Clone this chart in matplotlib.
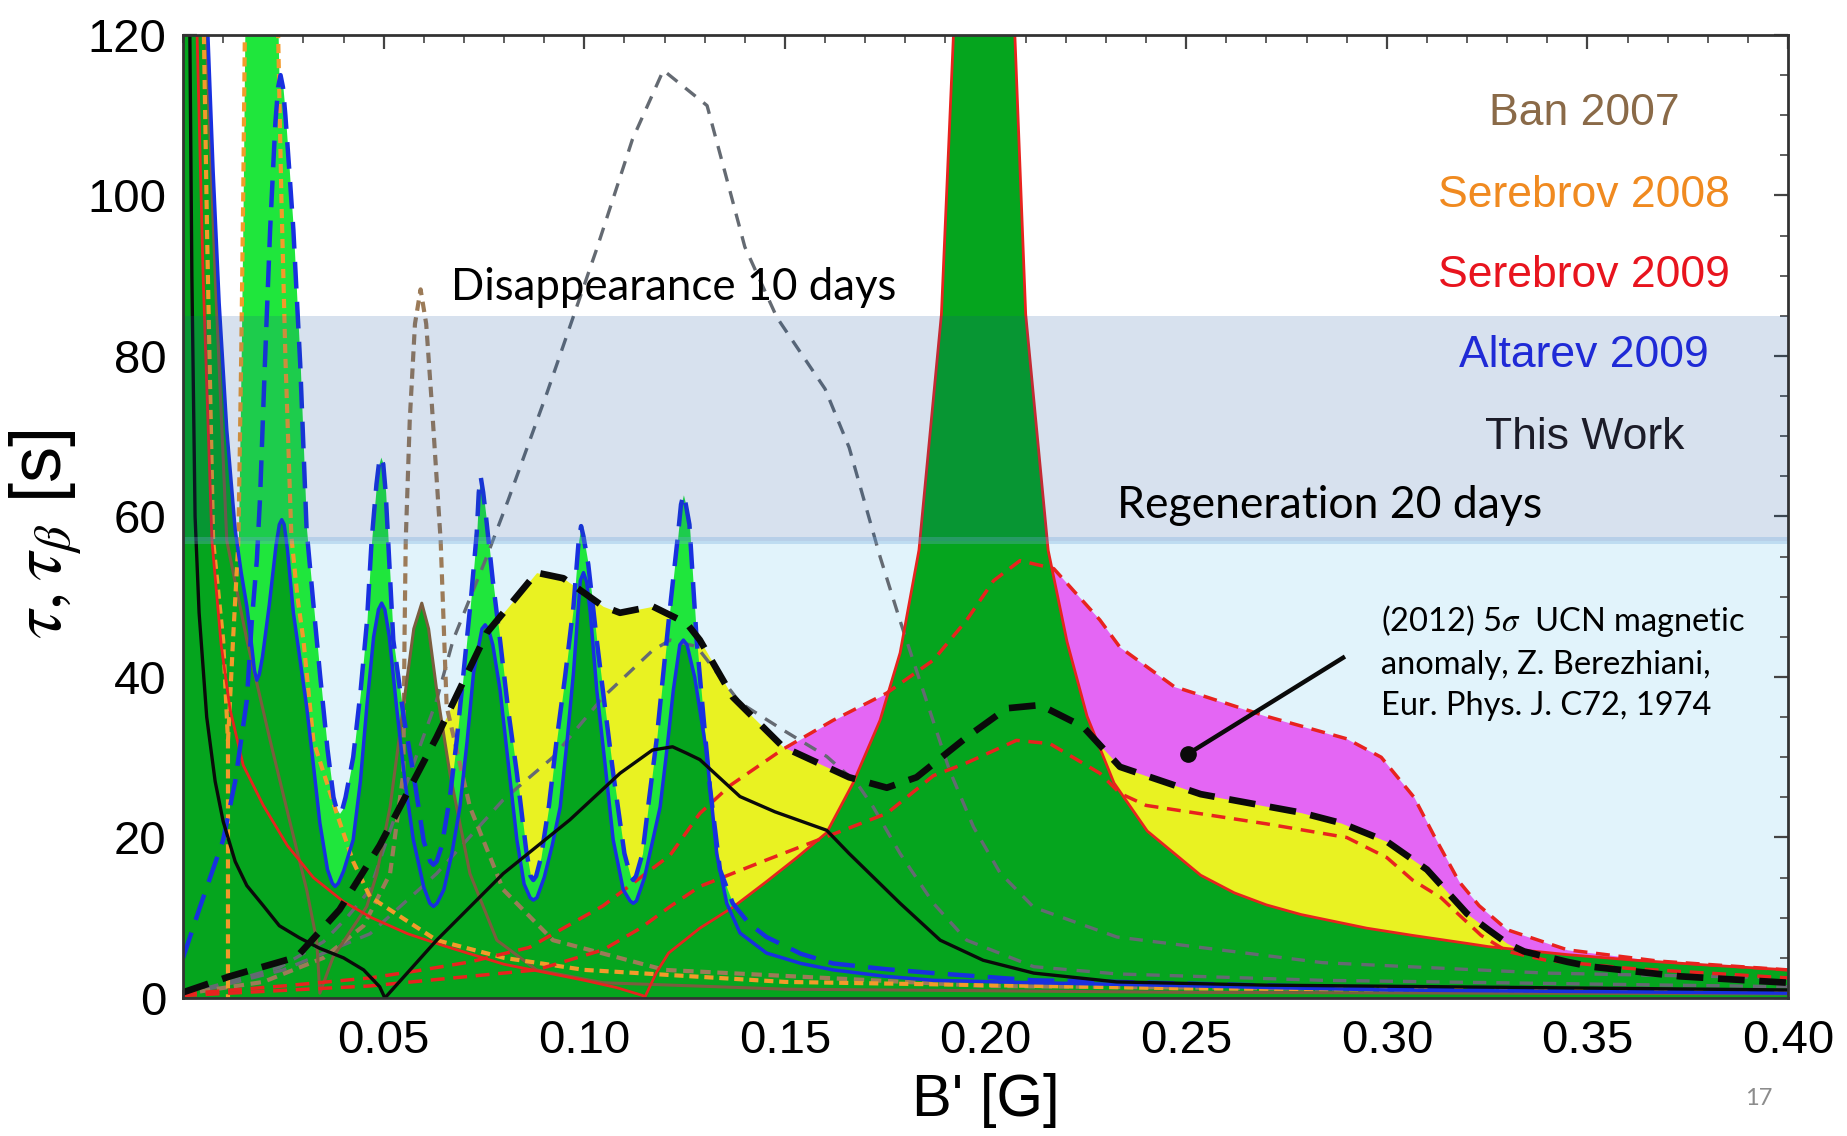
import numpy as np
import matplotlib.pyplot as plt

# curves: B' [G] and tau [s]
# Altarev 2009 (blue), solid and dashed
alt_solid_b = [0.0, 0.0062, 0.0075, 0.009, 0.0109, 0.013, 0.0145, 0.0159, 0.0172, 0.0178, 0.0184, 0.019,
               0.0198, 0.0215, 0.0232, 0.024, 0.0246, 0.0252, 0.026, 0.0275, 0.0292, 0.0308, 0.0325, 0.0341,
               0.036, 0.0372, 0.0379, 0.0387, 0.04, 0.0424, 0.0442, 0.0458, 0.0475, 0.0487, 0.0495, 0.0503,
               0.0514, 0.0532, 0.0553, 0.0574, 0.06, 0.0615, 0.0624, 0.0633, 0.065, 0.067, 0.069, 0.0708,
               0.0724, 0.0745, 0.0753, 0.0762, 0.0772, 0.079, 0.0811, 0.0832, 0.085, 0.0865, 0.0873, 0.0882,
               0.09, 0.092, 0.094, 0.0957, 0.0973, 0.099, 0.0998, 0.1006, 0.1015, 0.1031, 0.1052, 0.1072,
               0.1097, 0.1114, 0.1122, 0.113, 0.115, 0.117, 0.1189, 0.1206, 0.1222, 0.1238, 0.1247, 0.1256,
               0.1275, 0.1305, 0.133, 0.1355, 0.1388, 0.1454, 0.154, 0.162, 0.175, 0.187, 0.212, 0.233,
               0.30, 0.40]
alt_solid_t = [400, 120, 103, 86.6, 70.8, 58.3, 53, 48.8, 43.5, 40.8, 39.6, 40.3,
               42.5, 49, 56.5, 59, 59.6, 59, 56, 48, 42, 36.3, 29, 21.8,
               16, 14.3, 13.9, 14.3, 15.8, 19.7, 27, 36.3, 45, 48.4, 49.2, 48.4,
               45, 36.3, 27, 19.7, 13.8, 11.8, 11.4, 11.8, 13.5, 18, 23.8, 32,
               40.5, 46, 46.5, 45.8, 44, 38.4, 29, 19.7, 14.2, 12.5, 12.2, 12.5,
               15, 19, 23.8, 32, 40.5, 52, 53, 51.8, 48, 38.4, 29, 19.7,
               13.5, 12.1, 11.8, 12.1, 15, 19.5, 23.8, 31, 38.4, 44, 44.6, 44,
               40, 30.5, 18, 11.8, 8.1, 5.6, 4.3, 3.5, 2.7, 2.2, 1.9, 1.7,
               1.0, 0.6]

alt_dash_b = [0.0, 0.0042, 0.01, 0.013, 0.0159, 0.0171, 0.0184, 0.0192, 0.0204, 0.0217, 0.023, 0.0237,
              0.0243, 0.0249, 0.0255, 0.0265, 0.0275, 0.0292, 0.0308, 0.0325, 0.0341, 0.036, 0.0375, 0.0383,
              0.039, 0.0397, 0.0405, 0.0424, 0.0442, 0.0458, 0.047, 0.0482, 0.0488, 0.0493, 0.0499, 0.0505,
              0.0524, 0.055, 0.0574, 0.06, 0.0616, 0.0624, 0.0632, 0.0645, 0.0665, 0.0682, 0.07, 0.0718,
              0.0732, 0.0737, 0.0742, 0.0748, 0.0755, 0.0772, 0.079, 0.081, 0.0832, 0.0855, 0.0866, 0.0873,
              0.088, 0.0892, 0.0912, 0.0931, 0.0952, 0.0973, 0.0986, 0.0992, 0.0998, 0.101, 0.1031, 0.1052,
              0.1072, 0.11, 0.1115, 0.1122, 0.1129, 0.1145, 0.1162, 0.118, 0.1198, 0.1214, 0.1232, 0.1241,
              0.1247, 0.1253, 0.1262, 0.128, 0.1297, 0.1313, 0.1338, 0.137, 0.141, 0.1454, 0.154, 0.162,
              0.175, 0.187, 0.212, 0.233, 0.30, 0.40]
alt_dash_t = [5, 11.3, 19.7, 27, 37.1, 46.7, 54.6, 62.4, 79, 95.7, 109, 113.5,
              115, 113.5, 110, 103, 95.7, 79, 58.3, 49, 40.5, 31, 25, 23.5,
              23, 23.5, 25, 30, 38, 46.7, 57, 64, 66.5, 67.4, 66.5, 63,
              44.6, 35, 28, 19.5, 17, 16.6, 17, 19, 25, 32.1, 41, 50,
              58, 63, 64.9, 63, 60, 52, 44.6, 36, 28, 18.5, 15.2, 14.7,
              15.2, 17.5, 24, 32.1, 40, 48.8, 57, 58.8, 57.5, 54, 44.6, 36,
              28, 18, 15.2, 14.7, 15.2, 18, 25, 32.1, 41, 48.8, 57, 61.5,
              62.7, 61.5, 59, 44.6, 35, 26.3, 16, 11.8, 9.3, 7.6, 5.5, 4.3,
              3.6, 3.1, 2.2, 2.0, 1.2, 0.8]

# Serebrov 2008 (orange, dashed)
ser08_left_b = [0.0052, 0.006, 0.0075, 0.01, 0.0112, 0.0112]
ser08_left_t = [120, 95, 57, 44.6, 32, 0]
ser08_band_b = [0.0112, 0.0125, 0.0138, 0.0145, 0.015, 0.0154, 0.0156, 0.0235, 0.0237, 0.0245, 0.0255,
                0.027, 0.0285, 0.03, 0.0325, 0.0383, 0.0424, 0.0466, 0.0632, 0.08, 0.10, 0.15, 0.25, 0.40]
ser08_band_t = [32, 45, 57, 80, 100, 120, 130, 130, 120, 100, 80,
                57.5, 50, 44.6, 32, 23, 17, 12.6, 7.2, 5, 3.5, 2, 1.2, 0.8]

# Serebrov 2009 (red): solid, upper dashed, lower dashed
ser09_b = [0.0035, 0.005, 0.0072, 0.0095, 0.0117, 0.015, 0.02, 0.026, 0.0325, 0.04, 0.047, 0.056,
           0.065, 0.08, 0.09, 0.10, 0.108, 0.1146, 0.115, 0.118, 0.121, 0.1288, 0.137, 0.1454,
           0.153, 0.1604, 0.167, 0.1737, 0.1787, 0.1834, 0.189, 0.192, 0.196, 0.1997, 0.2035, 0.2073,
           0.21, 0.2156, 0.2203, 0.2253, 0.232, 0.2403, 0.2536, 0.2620, 0.27, 0.2786, 0.295, 0.3064,
           0.32, 0.3253, 0.345, 0.362, 0.38, 0.40]
ser09_t = [120, 90, 57, 44, 36, 29, 24, 19, 15, 12, 10, 8,
           6.5, 4.2, 3.2, 2.2, 1.3, 0.3, 0, 3.2, 5.6, 8.7, 11.3, 14.5,
           17.5, 20.6, 26.8, 34.6, 43, 55.8, 85.2, 120, 200, 400, 200, 120,
           85.2, 55.8, 44.4, 35.1, 26.8, 20.8, 15.3, 13.1, 11.6, 10.4, 8.7, 7.8,
           6.8, 6.4, 5.4, 4.7, 4.1, 3.5]

red_hi_b = [0.0, 0.025, 0.0466, 0.0585, 0.0716, 0.0863, 0.1047, 0.1214, 0.1288, 0.1364, 0.1495, 0.162,
            0.1754, 0.187, 0.1953, 0.202, 0.2086, 0.217, 0.2285, 0.2335, 0.247, 0.27, 0.29, 0.2986,
            0.3068, 0.312, 0.318, 0.323, 0.33, 0.345, 0.3676, 0.40]
red_hi_t = [0.5, 1.5, 2.5, 3.4, 4.5, 6.3, 11.5, 17.8, 23, 26.5, 31, 34.6,
            38, 42.1, 47.1, 52, 54.5, 53.5, 47.1, 43.7, 38.8, 35.1, 32.3, 30,
            25, 20, 14.5, 11.5, 8.5, 6, 4.6, 3.5]
red_lo_b = [0.0, 0.0466, 0.0881, 0.1047, 0.114, 0.1214, 0.1288, 0.1454, 0.1604, 0.1754, 0.187, 0.1953,
            0.2077, 0.216, 0.2285, 0.2335, 0.24, 0.27, 0.29, 0.30, 0.3064, 0.3135, 0.3175, 0.3235,
            0.33, 0.3397, 0.36, 0.40]
red_lo_t = [0.3, 1.5, 3.5, 6, 8.7, 11.4, 13.9, 17.2, 20.1, 23, 27.7, 29.3,
            32.1, 31.7, 28, 25.5, 24, 21.7, 20, 17.5, 14.7, 12.5, 10.6, 7.8,
            5.8, 4.7, 3.7, 2.5]

# Ban 2007 (brown)
ban_solid_b = [0.0058, 0.008, 0.0109, 0.0159, 0.0217, 0.0267, 0.0308, 0.0333, 0.0341, 0.0374, 0.0458,
               0.0483, 0.0516, 0.0549, 0.0575, 0.0595, 0.0612, 0.0632, 0.0665, 0.0715, 0.0782, 0.0881,
               0.1047, 0.15, 0.25, 0.40]
ban_solid_t = [120, 90, 57, 44.6, 32.1, 21.8, 13.5, 7.2, 0.6, 5.1, 11.4,
               15.5, 23.8, 36.3, 46, 49.2, 46, 38.4, 28, 15.5, 7.2, 3.5,
               1.9, 1.1, 0.7, 0.5]
ban_dash_b = [0.0, 0.02, 0.035, 0.045, 0.0516, 0.0549, 0.0552, 0.0555, 0.0565, 0.0578, 0.0592, 0.0606,
              0.062, 0.0642, 0.0657, 0.0715, 0.0798, 0.0922, 0.12, 0.20, 0.40]
ban_dash_t = [0.5, 2, 5, 9, 15.5, 28, 45, 57, 72, 84, 88.3, 84,
              74, 57, 36.3, 23.8, 13.5, 7.2, 3.5, 1.5, 0.7]

# This Work (black): solid and thick dashed
work_solid_b = [0.0017, 0.0022, 0.003, 0.004, 0.0059, 0.008, 0.01, 0.013, 0.0159, 0.02, 0.024, 0.029,
                0.034, 0.04, 0.045, 0.049, 0.0503, 0.0632, 0.0798, 0.0964, 0.1089, 0.117, 0.122, 0.1255,
                0.1288, 0.1388, 0.1475, 0.1604, 0.166, 0.1787, 0.1887, 0.1994, 0.212, 0.2327, 0.27, 0.40]
work_solid_t = [120, 90, 60, 48, 35, 27, 22, 17, 14, 11.5, 9, 7.5,
                6.2, 5, 3.5, 1.4, 0, 7.2, 15.5, 22.2, 28, 30.9, 31.3, 30.5,
                29.7, 25.1, 23.2, 20.9, 18, 11.8, 7.2, 4.7, 3.1, 2.0, 1.6, 1.0]
work_dash_b = [0.0, 0.0117, 0.0283, 0.039, 0.049, 0.0632, 0.0757, 0.0881, 0.0948, 0.1047, 0.1089, 0.117,
               0.1255, 0.1288, 0.137, 0.1495, 0.166, 0.1754, 0.1828, 0.1953, 0.2053, 0.2136, 0.2243, 0.2335,
               0.2536, 0.2786, 0.2886, 0.30, 0.31, 0.32, 0.3253, 0.33, 0.3342, 0.345, 0.351, 0.373, 0.40]
work_dash_t = [0.7, 2.7, 5.1, 11, 19, 32.5, 45.5, 53, 52.3, 48.8, 48, 48.8,
               46.7, 44.6, 37.5, 31.3, 27.5, 26.2, 27.5, 32.5, 36.1, 36.5, 33.8, 28.8,
               25.4, 23.1, 21.8, 19.5, 16, 10.5, 8.5, 6.8, 5.8, 4.5, 3.9, 2.7, 1.9]

# disappearance, 10 days (gray dashed): wide hump and lower hump
dis_hi_b = [0.0, 0.024, 0.035, 0.0408, 0.0466, 0.0508, 0.0566, 0.0632, 0.0673, 0.0757, 0.081, 0.0907,
            0.103, 0.112, 0.1197, 0.1306, 0.135, 0.14, 0.148, 0.16, 0.166, 0.1737, 0.1787, 0.1853,
            0.191, 0.197, 0.2036, 0.212, 0.2327, 0.284, 0.3397, 0.40]
dis_hi_t = [0.4, 3.8, 7, 10, 13.5, 19.7, 28, 37.1, 44.6, 55, 62, 75.4,
            93.2, 107, 115.6, 111.2, 103, 93.6, 84.8, 75.9, 68.6, 55, 47, 37,
            28.4, 21.3, 15.6, 11.3, 7.6, 4.4, 3.1, 2.5]
dis_lo_b = [0.0, 0.025, 0.0466, 0.0632, 0.0798, 0.0922, 0.1047, 0.117, 0.1214, 0.128, 0.1388, 0.1495,
            0.1604, 0.1679, 0.172, 0.1787, 0.187, 0.1953, 0.212, 0.2327, 0.284, 0.40]
dis_lo_t = [0.3, 3.5, 8, 15.5, 24.7, 30, 37.5, 43.3, 44.6, 43.8, 36.8, 33.4,
            30.1, 26.8, 23.8, 18, 11.8, 7.2, 3.9, 3.0, 2.2, 1.4]

exp_labels = ['Ban 2007', 'Serebrov 2008', 'Serebrov 2009', 'Altarev 2009', 'This Work']
exp_colors = ['#8a6a48', '#f08a20', '#e8141e', '#1f2ad6', '#1c1c28']
exp_label_t = [110.2, 100.0, 90.0, 80.1, 69.9]

regen_band = (57, 85)
arrow_from = (0.2891, 42.4)
arrow_to = (0.2504, 30.4)

BLUE = '#1830e0'
RED = '#e8231e'
GRAY = '#646a72'
GREEN = '#05a51e'
LIME = '#1fe63c'
YELLOW = '#e9f222'
MAGENTA = '#e466f4'

plt.rcParams['mathtext.fontset'] = 'stix'

fig = plt.figure(figsize=(18.47, 11.36), dpi=100)
ax = fig.add_axes([0.0991, 0.1215, 0.869, 0.8477])

# background and filled regions
ax.axhspan(0, regen_band[0], color='#e1f3fb', lw=0, zorder=0)
ax.fill_between(red_hi_b, 0, red_hi_t, color=MAGENTA, lw=0, zorder=1)
ax.fill_between(work_dash_b, 0, work_dash_t, color=YELLOW, lw=0, zorder=2)
ax.fill_between(alt_dash_b, 0, alt_dash_t, color=LIME, lw=0, zorder=3)
ax.fill_between(ser08_band_b, 0, ser08_band_t, color=LIME, lw=0, zorder=3)
for b, t in [(alt_solid_b, alt_solid_t), (ser09_b, ser09_t), (ban_solid_b, ban_solid_t)]:
    ax.fill_between(b, 0, t, color=GREEN, lw=0, zorder=4)

# curves
ax.plot(dis_hi_b, dis_hi_t, color=GRAY, lw=2.4, dashes=(4, 3), zorder=5)
ax.plot(dis_lo_b, dis_lo_t, color=GRAY, lw=2.4, dashes=(4, 3), zorder=5)
ax.plot(ban_dash_b, ban_dash_t, color='#9c7b58', lw=3, dashes=(2.5, 1.6), zorder=5)
ax.plot(ban_solid_b, ban_solid_t, color='#7b5d3f', lw=2.2, zorder=5)
ax.plot(ser08_left_b, ser08_left_t, color='#f39a2a', lw=3, dashes=(2.2, 1.4), zorder=5)
ax.plot(ser08_band_b, ser08_band_t, color='#f39a2a', lw=3, dashes=(2.2, 1.4), zorder=5)
ax.plot(red_hi_b, red_hi_t, color=RED, lw=2.5, dashes=(4, 2.5), zorder=6)
ax.plot(red_lo_b, red_lo_t, color=RED, lw=2.5, dashes=(4, 2.5), zorder=6)
ax.plot(ser09_b, ser09_t, color=RED, lw=2, zorder=6)
ax.plot(alt_solid_b, alt_solid_t, color=BLUE, lw=2.5, zorder=6)
ax.plot(alt_dash_b, alt_dash_t, color=BLUE, lw=3.2, dashes=(6, 3), zorder=6)
ax.plot(work_solid_b, work_solid_t, color='#0a0a0a', lw=2.4, zorder=7)
ax.plot(work_dash_b, work_dash_t, color='#0a0a0a', lw=4.8, dashes=(4, 2.2), zorder=7)

# regeneration band sits over everything
ax.axhspan(regen_band[0], regen_band[1], color='#14509b', alpha=0.17, lw=0, zorder=8)
ax.axhspan(regen_band[0] - 0.4, regen_band[0] + 0.5, color='#6fa8dc', alpha=0.3, lw=0, zorder=8)

ax.set_xlim(0, 0.4)
ax.set_ylim(0, 120)

ax.set_xticks(np.arange(0.05, 0.401, 0.05))
ax.set_xticklabels(['%.2f' % v for v in np.arange(0.05, 0.401, 0.05)])
ax.set_xticks(np.arange(0, 0.401, 0.01), minor=True)
ax.set_yticks(np.arange(0, 121, 20))
ax.set_yticks(np.arange(0, 121, 5), minor=True)
ax.tick_params(which='both', direction='in', top=True, right=True, color='#444444')
ax.tick_params(which='major', length=10, width=1.6)
ax.tick_params(which='minor', length=5.5, width=1.2)
ax.tick_params(axis='y', labelsize=34, pad=12)
ax.tick_params(axis='x', labelsize=34, pad=15)
for lab in ax.get_yticklabels():
    lab.set_family(['Liberation Sans', 'DejaVu Sans'])
for lab in ax.get_xticklabels():
    lab.set_family(['Liberation Sans Narrow', 'Liberation Sans', 'DejaVu Sans'])
for s in ax.spines.values():
    s.set_color('#333333')
    s.set_linewidth(2)
    s.set_zorder(9)

fig.text(0.534, 0.031, "B' [G]", fontsize=43, ha='center', va='center',
         family=['Liberation Sans Narrow', 'Liberation Sans', 'DejaVu Sans'])
fig.text(0.025, 0.53, r'$\tau, \tau_{\beta}$ [s]', fontsize=52, rotation=90, ha='center', va='center',
         family=['Liberation Sans', 'DejaVu Sans'])
fig.text(0.9524, 0.0326, '17', fontsize=17, color='#8c8c8c', ha='center', va='center', family='Lato')

for lab, col, t in zip(exp_labels, exp_colors, exp_label_t):
    ax.text(0.3492, t, lab, color=col, fontsize=32, ha='center', va='center',
            family=['Liberation Sans', 'DejaVu Sans'], zorder=10)

ax.text(0.0669, 88.5, 'Disappearance 10 days', fontsize=31.5, ha='left', va='center', family='Lato', zorder=10)
ax.text(0.2327, 61.4, 'Regeneration 20 days', fontsize=32, ha='left', va='center', family='Lato', zorder=10)
ax.text(0.2985, 49.2, '(2012) 5$\\sigma$  UCN magnetic\nanomaly, Z. Berezhiani,\nEur. Phys. J. C72, 1974',
        fontsize=23.5, ha='left', va='top', family='Lato', linespacing=1.45, zorder=10)
ax.plot([arrow_from[0], arrow_to[0]], [arrow_from[1], arrow_to[1]], color='#0a0a0a', lw=3.2, zorder=10)
ax.plot([arrow_to[0]], [arrow_to[1]], 'o', color='#0a0a0a', ms=11, zorder=10)

fig.savefig('out.png', dpi=100)
